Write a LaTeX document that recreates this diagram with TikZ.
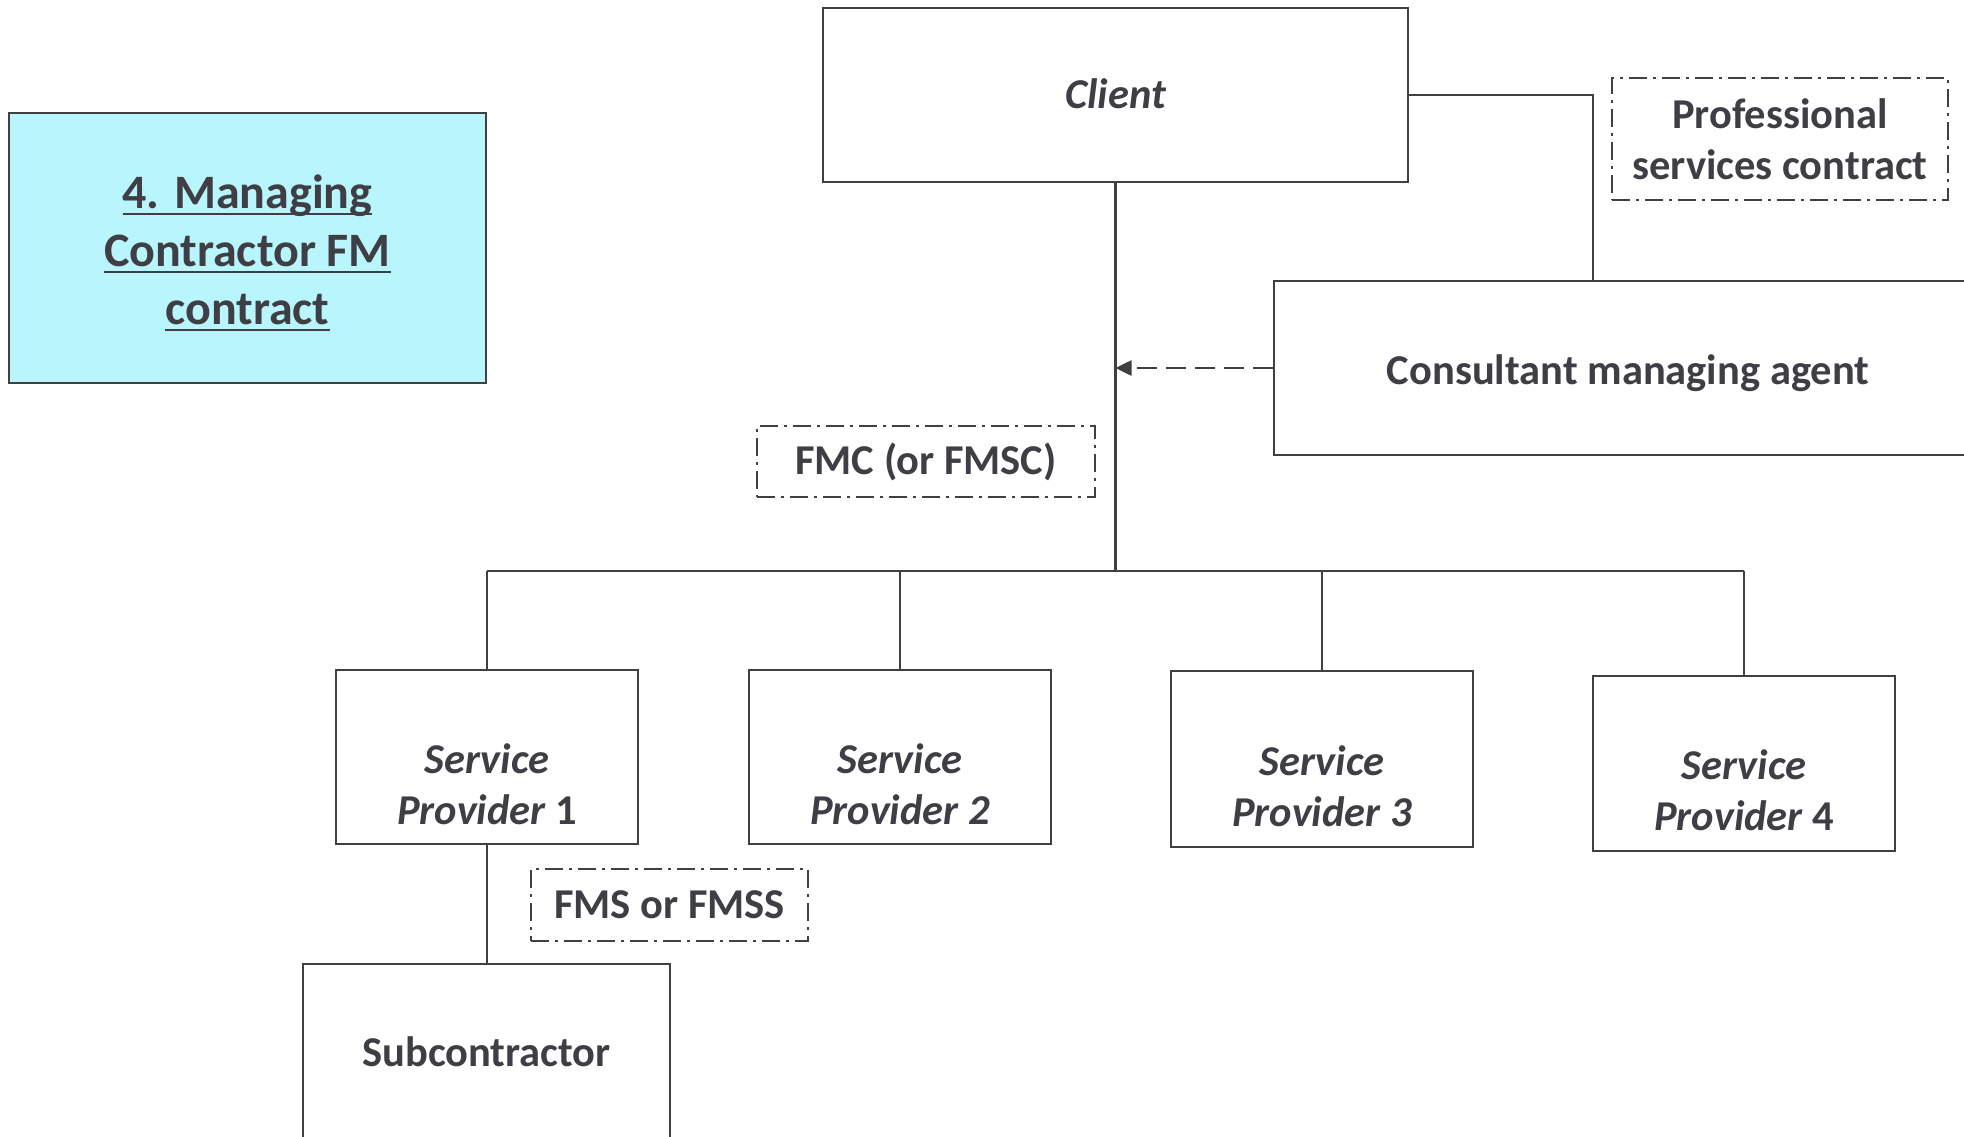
\documentclass[tikz,border=0pt]{standalone}
\usepackage{fontspec}
\setmainfont{Carlito}
\usetikzlibrary{arrows.meta,calc}
\definecolor{ink}{RGB}{62,62,68}
\definecolor{edge}{RGB}{64,64,66}
\definecolor{titlefill}{RGB}{184,245,252}
% underline at a fixed distance below the baseline
\newcommand\titleline[1]{\setbox0\hbox{#1}\rlap{\rule[-7pt]{\wd0}{2.6pt}}\box0}
\tikzset{
  boxfont/.style={font=\fontsize{42.5}{51}\selectfont\bfseries},
  box/.style={draw=edge, line width=2.4pt, fill=white, rectangle, inner sep=0pt,
              align=center, text=ink, boxfont},
  boxtext/.style={inner sep=0pt, align=center, text=ink, boxfont},
  contract/.style={draw=edge, line width=2.2pt, rectangle, inner sep=0pt, align=center,
              text=ink, boxfont, dash pattern=on 18pt off 6pt on 3pt off 6pt},
  link/.style={draw=edge, line width=2.4pt},
  agentlink/.style={draw=edge, line width=2.6pt, dash pattern=on 20pt off 9pt,
              -{Triangle[length=16pt,width=15pt]}}
}
\begin{document}
\begin{tikzpicture}[x=1pt,y=-1pt]
\useasboundingbox (0,0) rectangle (1964,1137);
\clip (0,0) rectangle (1964,1137);

% heading panel
\node[box, fill=titlefill, minimum width=477pt, minimum height=270pt] (title) at (247.5,248) {};
\node[boxtext, font=\fontsize{48}{58}\selectfont\bfseries] (titletext) at (247.5,253)
  {\titleline{4. Managing}\\ \titleline{Contractor FM}\\ \titleline{contract}};

% parties
\node[box, minimum width=585pt, minimum height=174pt] (client) at (1115.5,95) {};
\node[boxtext] (clienttext) at (1115.5,94) {\itshape Client};
\node[box, minimum width=708pt, minimum height=174pt] (cma) at (1628,368) {};
\node[boxtext] (cmatext) at (1628,373) {Consultant managing agent};
\node[box, minimum width=302pt, minimum height=174pt] (sp1) at (487,757) {};
\node[box, minimum width=302pt, minimum height=174pt] (sp2) at (900,757) {};
\node[box, minimum width=302pt, minimum height=176pt] (sp3) at (1322,759) {};
\node[box, minimum width=302pt, minimum height=175pt] (sp4) at (1744,763.5) {};
\node[boxtext] (sp1text) at ($(sp1)+(0,27)$) {\itshape Service\\ \itshape Provider \upshape 1};
\node[boxtext] (sp2text) at ($(sp2)+(0,27)$) {\itshape Service\\ \itshape Provider 2};
\node[boxtext] (sp3text) at ($(sp3)+(0,27)$) {\itshape Service\\ \itshape Provider 3};
\node[boxtext] (sp4text) at ($(sp4)+(0,27)$) {\itshape Service\\ \itshape Provider \upshape 4};
\node[box, minimum width=367pt, minimum height=176pt] (sub) at (486.5,1052) {};
\node[boxtext] (subtext) at (486.5,1052) {Subcontractor};

% contract labels
\node[contract, minimum width=336pt, minimum height=122pt] (psc) at (1780,139)
  {Professional\\ services contract};
\node[contract, minimum width=338pt, minimum height=71pt] (fmc) at (926,461.5) {FMC (or FMSC)};
\node[contract, minimum width=277pt, minimum height=72pt] (fms) at (669.5,905) {FMS or FMSS};

% routing points
\coordinate (bus) at (1116,571);
\coordinate (pscx) at (1593,0);

% client to consultant
\draw[link] (client.east) -| (cma.north -| pscx);
% client down to the service providers
\draw[link] (client.south) -- (client.south |- bus);
\draw[link] (sp1.north |- bus) -- (sp4.north |- bus);
\foreach \s in {sp1,sp2,sp3,sp4}
  \draw[link] (\s.north |- bus) -- (\s.north);
% service provider 1 to subcontractor
\draw[link] (sp1.south) -- (sp1.south |- sub.north);
% consultant managing agent reporting line
\draw[agentlink] (cma.west) -- (cma.west -| client.south);
\end{tikzpicture}
\end{document}
